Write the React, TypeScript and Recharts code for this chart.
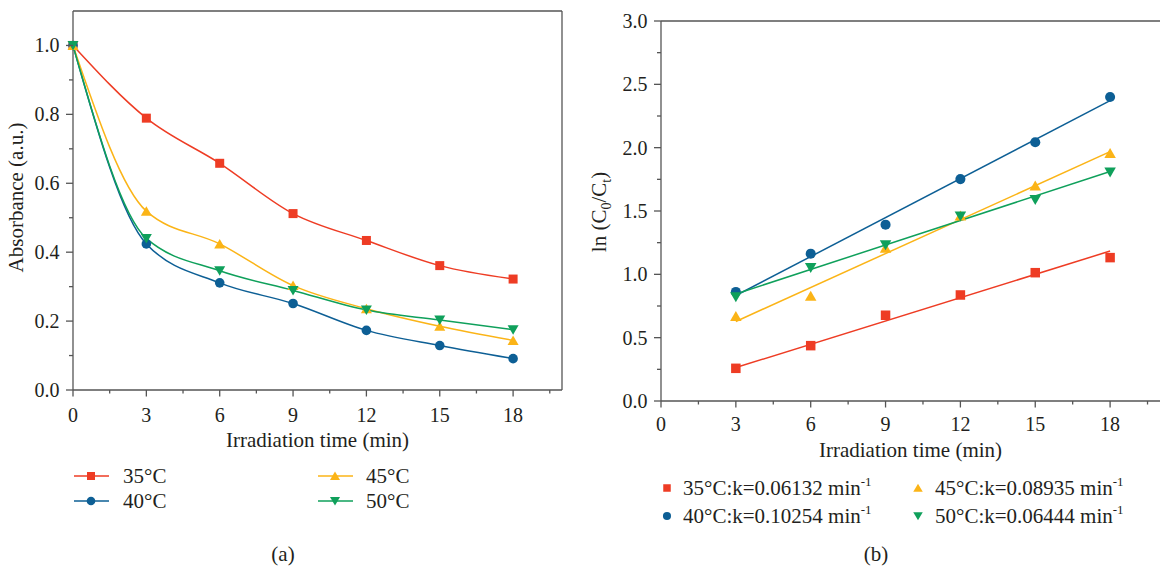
import React from 'react';
import { LineChart, Line, XAxis, YAxis, ReferenceLine, ComposedChart, Scatter } from 'recharts';

const FONT = '"Liberation Serif", "Times New Roman", serif';
const INK = '#231f20';
const AXIS = '#555555';

const RED = '#ee3c24';
const BLUE = '#0d5f95';
const YELLOW = '#fbb417';
const GREEN = '#0fa05b';

// (a) absorbance vs irradiation time
const timeA = [0, 3, 6, 9, 12, 15, 18];
const abs35 = [1.0, 0.789, 0.658, 0.512, 0.434, 0.361, 0.322];
const abs40 = [1.0, 0.424, 0.311, 0.251, 0.173, 0.129, 0.091];
const abs45 = [1.0, 0.519, 0.424, 0.303, 0.236, 0.185, 0.144];
const abs50 = [1.0, 0.44, 0.346, 0.289, 0.232, 0.203, 0.175];

// (b) ln(C0/Ct) vs irradiation time + linear fits
const timeB = [3, 6, 9, 12, 15, 18];
const ln35 = [0.258, 0.437, 0.677, 0.837, 1.013, 1.132];
const ln40 = [0.861, 1.163, 1.392, 1.752, 2.043, 2.4];
const ln45 = [0.669, 0.829, 1.207, 1.463, 1.7, 1.955];
const ln50 = [0.822, 1.052, 1.232, 1.458, 1.588, 1.806];
const fitRange = [3, 18];
const kValues = [0.06132, 0.10254, 0.08935, 0.06444];
const intercepts = [0.08, 0.525, 0.36, 0.652];

// ticks
const xMajor = [0, 3, 6, 9, 12, 15, 18];
const xMinor = [1.5, 4.5, 7.5, 10.5, 13.5, 16.5, 19.5];
const yMajorA = [0, 0.2, 0.4, 0.6, 0.8, 1.0];
const yMinorA = [0.1, 0.3, 0.5, 0.7, 0.9];
const yMajorB = [0, 0.5, 1, 1.5, 2, 2.5, 3];
const yMinorB = [0.25, 0.75, 1.25, 1.75, 2.25, 2.75];

const labels = ['35°C', '40°C', '45°C', '50°C'];
const colors = [RED, BLUE, YELLOW, GREEN];
const shapes = ['square', 'circle', 'up', 'down'];

const rowsA = timeA.map((t, i) => ({ t, s35: abs35[i], s40: abs40[i], s45: abs45[i], s50: abs50[i] }));
const keysA = ['s35', 's40', 's45', 's50'];
const pointsB = [ln35, ln40, ln45, ln50].map(vals => timeB.map((t, i) => ({ t, v: vals[i] })));
const fitsB = kValues.map((k, i) => fitRange.map(t => ({ t, v: intercepts[i] + k * t })));

const sortNum = (a: number[], b: number[]) => [...a, ...b].sort((p, q) => p - q);
const isIn = (list: number[], v: number) => list.some(m => Math.abs(m - v) < 1e-6);

function Marker({ kind, cx, cy, color, size = 9 }: any) {
  if (cx == null || cy == null) return null;
  const h = size / 2;
  if (kind === 'square') return <rect x={cx - h} y={cy - h} width={size} height={size} fill={color} />;
  if (kind === 'circle') return <circle cx={cx} cy={cy} r={h + 0.3} fill={color} />;
  const w = h + 1;
  if (kind === 'up')
    return <polygon points={`${cx},${cy - h - 0.5} ${cx + w},${cy + h} ${cx - w},${cy + h}`} fill={color} />;
  return <polygon points={`${cx - w},${cy - h} ${cx + w},${cy - h} ${cx},${cy + h + 0.5}`} fill={color} />;
}

function XTick({ x, y, payload, majors, labelDy }: any) {
  const major = isIn(majors, payload.value);
  return (
    <g>
      <line x1={x} x2={x} y1={y} y2={y + (major ? 6.5 : 3.5)} stroke={AXIS} strokeWidth={1.3} />
      {major && (
        <text x={x} y={y + labelDy} textAnchor="middle" fontFamily={FONT} fontSize={20} fill={INK}>
          {payload.value}
        </text>
      )}
    </g>
  );
}

function YTick({ x, y, payload, majors }: any) {
  const major = isIn(majors, payload.value);
  return (
    <g>
      <line x1={x - (major ? 7 : 4)} x2={x} y1={y} y2={y} stroke={AXIS} strokeWidth={1.3} />
      {major && (
        <text x={x - 13.5} y={y + 7} textAnchor="end" fontFamily={FONT} fontSize={20} fill={INK}>
          {payload.value.toFixed(1)}
        </text>
      )}
    </g>
  );
}

function XTitle({ viewBox, text, dy }: any) {
  const vb = viewBox || { x: 0, y: 0, width: 0 };
  return (
    <text x={vb.x + vb.width / 2} y={vb.y + dy} textAnchor="middle" fontFamily={FONT} fontSize={21} fill={INK}>
      {text}
    </text>
  );
}

function YTitle({ viewBox, dx, dy, children }: any) {
  const vb = viewBox || { x: 0, y: 0, height: 0 };
  const x = vb.x + dx;
  const y = vb.y + vb.height / 2 + dy;
  return (
    <text x={x} y={y} transform={`rotate(-90, ${x}, ${y})`} textAnchor="middle" fontFamily={FONT} fontSize={21} fill={INK}>
      {children}
    </text>
  );
}

const axisLine = { stroke: AXIS, strokeWidth: 1.3 };

function PanelA() {
  return (
    <LineChart width={580} height={470} data={rowsA} margin={{ top: 11, right: 18, bottom: 0, left: 0 }}>
      <XAxis
        type="number"
        dataKey="t"
        domain={[0, 20]}
        ticks={sortNum(xMajor, xMinor)}
        interval={0}
        height={80}
        tickSize={0}
        tickMargin={0}
        tickLine={false}
        axisLine={axisLine}
        tick={<XTick majors={xMajor} labelDy={32} />}
        label={<XTitle text="Irradiation time (min)" dy={57} />}
      />
      <YAxis
        type="number"
        domain={[0, 1.1]}
        ticks={sortNum(yMajorA, yMinorA)}
        interval={0}
        width={73}
        tickSize={0}
        tickMargin={0}
        tickLine={false}
        axisLine={axisLine}
        tick={<YTick majors={yMajorA} />}
        label={<YTitle dx={23} dy={-3}>Absorbance (a.u.)</YTitle>}
      />
      <ReferenceLine y={1.1} stroke={AXIS} strokeWidth={1.3} />
      <ReferenceLine x={20} stroke={AXIS} strokeWidth={1.3} />
      {keysA.map((key, i) => (
        <Line
          key={key}
          type="monotone"
          dataKey={key}
          stroke={colors[i]}
          strokeWidth={1.5}
          isAnimationActive={false}
          activeDot={false}
          dot={(p: any) => <Marker key={`${key}-${p.index}`} kind={shapes[i]} cx={p.cx} cy={p.cy} color={colors[i]} />}
        />
      ))}
    </LineChart>
  );
}

function PanelB() {
  return (
    <ComposedChart width={580} height={470} margin={{ top: 21, right: 0, bottom: 0, left: 0 }}>
      <XAxis
        type="number"
        dataKey="t"
        domain={[0, 20]}
        ticks={sortNum(xMajor, xMinor)}
        interval={0}
        height={69}
        tickSize={0}
        tickMargin={0}
        tickLine={false}
        axisLine={axisLine}
        tick={<XTick majors={xMajor} labelDy={30} />}
        label={<XTitle text="Irradiation time (min)" dy={56} />}
      />
      <YAxis
        type="number"
        dataKey="v"
        domain={[0, 3]}
        ticks={sortNum(yMajorB, yMinorB)}
        interval={0}
        width={81}
        tickSize={0}
        tickMargin={0}
        tickLine={false}
        axisLine={axisLine}
        tick={<YTick majors={yMajorB} />}
        label={
          <YTitle dx={26} dy={1}>
            <tspan>ln (C</tspan>
            <tspan dy={5} fontSize={14}>0</tspan>
            <tspan dy={-5}>/C</tspan>
            <tspan dy={5} fontSize={14}>t</tspan>
            <tspan dy={-5}>)</tspan>
          </YTitle>
        }
      />
      <ReferenceLine y={3} stroke={AXIS} strokeWidth={1.3} />
      {fitsB.map((fit, i) => (
        <Line
          key={`fit-${i}`}
          data={fit}
          dataKey="v"
          type="linear"
          stroke={colors[i]}
          strokeWidth={1.5}
          dot={false}
          activeDot={false}
          isAnimationActive={false}
        />
      ))}
      {pointsB.map((pts, i) => (
        <Scatter
          key={`pts-${i}`}
          data={pts}
          fill={colors[i]}
          isAnimationActive={false}
          shape={(p: any) => <Marker kind={shapes[i]} cx={p.cx} cy={p.cy} color={colors[i]} size={9.5} />}
        />
      ))}
    </ComposedChart>
  );
}

function Legends() {
  const txt = { fontFamily: FONT, fontSize: 21, fill: INK };
  // panel (a): 2 columns x 2 rows, line + marker
  const colA = [{ line: 74, mark: 91, text: 123 }, { line: 318, mark: 335, text: 366 }];
  const rowA = [476, 501];
  const orderA = [[0, 0], [1, 0], [0, 1], [1, 1]]; // [row, col] for 35,40,45,50
  const colB = [{ mark: 667, text: 683 }, { mark: 918, text: 935 }];
  const rowB = [488, 516];
  return (
    <svg width={1160} height={569} style={{ position: 'absolute', left: 0, top: 0 }}>
      {labels.map((lab, i) => {
        const [r, c] = orderA[i];
        const col = colA[c];
        const y = rowA[r];
        return (
          <g key={`la-${i}`}>
            <line x1={col.line} x2={col.line + 35} y1={y} y2={y} stroke={colors[i]} strokeWidth={1.5} />
            <Marker kind={shapes[i]} cx={col.mark} cy={y} color={colors[i]} size={8} />
            <text x={col.text} y={y + 7} {...txt}>{lab}</text>
          </g>
        );
      })}
      {labels.map((lab, i) => {
        const [r, c] = orderA[i];
        const col = colB[c];
        const y = rowB[r];
        return (
          <g key={`lb-${i}`}>
            <Marker kind={shapes[i]} cx={col.mark} cy={y} color={colors[i]} size={7.5} />
            <text x={col.text} y={y + 7} {...txt}>
              {`${lab}:k=${kValues[i].toFixed(5)} min`}
              <tspan dy={-9} fontSize={13}>-1</tspan>
            </text>
          </g>
        );
      })}
      <text x={283} y={561} textAnchor="middle" {...txt}>(a)</text>
      <text x={876} y={561} textAnchor="middle" {...txt}>(b)</text>
    </svg>
  );
}

export default function App() {
  return (
    <div style={{ position: 'absolute', left: 0, top: 0, width: 1160, height: 569, background: '#fff', overflow: 'hidden' }}>
      <Legends />
      <div style={{ position: 'absolute', left: 0, top: 0 }}>
        <PanelA />
      </div>
      <div style={{ position: 'absolute', left: 580, top: 0 }}>
        <PanelB />
      </div>
    </div>
  );
}
